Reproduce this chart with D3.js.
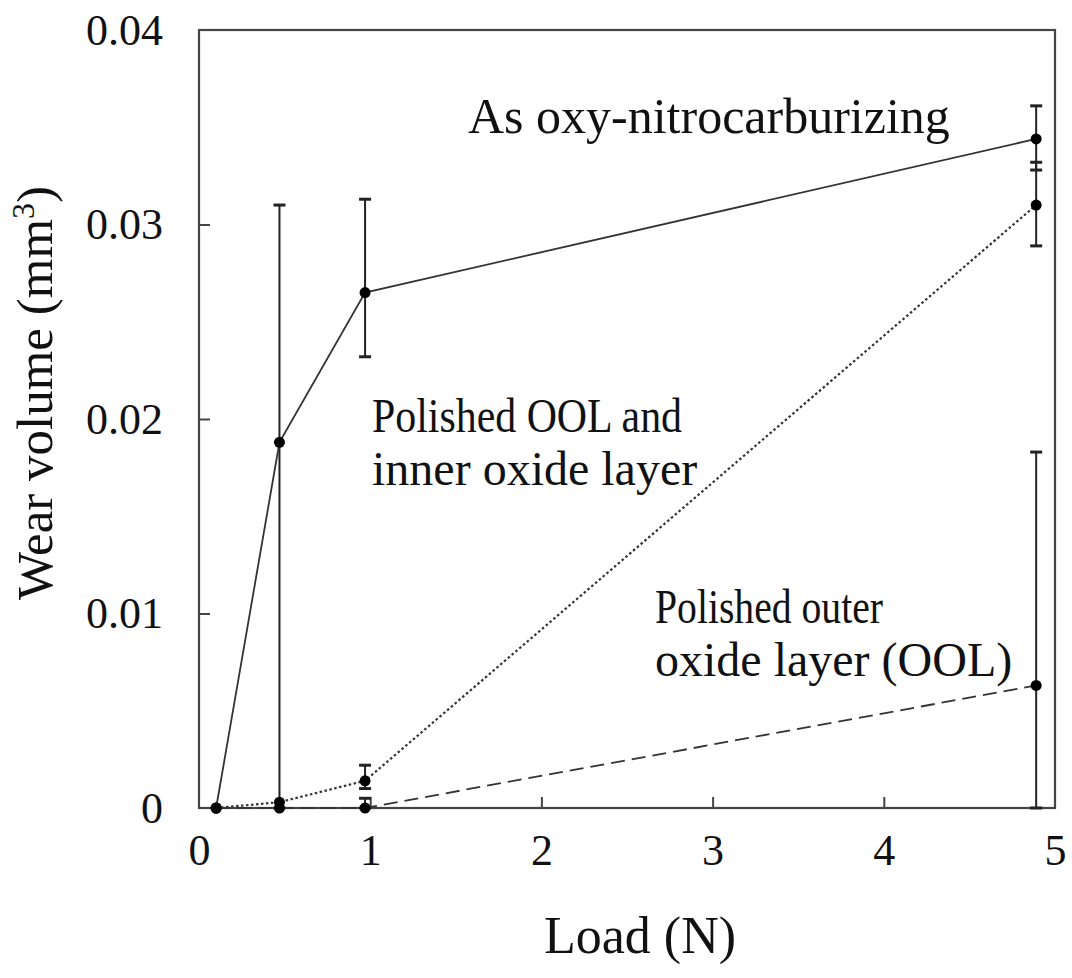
<!DOCTYPE html>
<html><head><meta charset="utf-8">
<script src="https://cdn.jsdelivr.net/npm/d3@7"></script>
<style>body{margin:0;background:#fff}</style>
</head><body>
<svg id="c" width="1072" height="978"></svg>
<script>
const loads = [0.1, 0.47, 0.97, 4.89];
const seriesNames = ["As oxy-nitrocarburizing", "Polished OOL and inner oxide layer", "Polished outer oxide layer (OOL)"];
const asOxy = [0, 0.0188, 0.0265, 0.0344];
const asOxyLow = [0, 0, 0.0232, 0.0328];
const asOxyHigh = [0, 0.0310, 0.0313, 0.0361];
const polInner = [0, 0.0003, 0.0014, 0.0310];
const polInnerLow = [0, 0, 0.0010, 0.0289];
const polInnerHigh = [0, 0, 0.0022, 0.0332];
const polOuter = [0, 0, 0, 0.0063];
const polOuterLow = [0, 0, 0, 0];
const polOuterHigh = [0, 0, 0.0005, 0.0183];
const xTicks = [0, 1, 2, 3, 4, 5];
const yTicks = [0, 0.01, 0.02, 0.03, 0.04];

const svg = d3.select("#c");
const L = 199, R = 1055, T = 30, B = 808;
const x = d3.scaleLinear().domain([0, 5]).range([L, R]);
const y = d3.scaleLinear().domain([0, 0.04]).range([B, T]);
const font = "'Liberation Serif','Times New Roman',serif";
const col = "#222";

// frame
svg.append("rect").attr("x", L).attr("y", T).attr("width", R - L).attr("height", B - T)
  .attr("fill", "none").attr("stroke", "#444").attr("stroke-width", 2.2);

// axes
const xAxis = svg.append("g").attr("transform", `translate(0,${B})`)
  .call(d3.axisBottom(x).tickValues(xTicks).tickSizeInner(-11).tickSizeOuter(0).tickPadding(30).tickFormat(d3.format("d")));
const yAxis = svg.append("g").attr("transform", `translate(${L},0)`)
  .call(d3.axisLeft(y).tickValues(yTicks).tickSizeInner(-11).tickSizeOuter(0).tickPadding(36).tickFormat(d => d === 0 ? "0" : d3.format(".2f")(d)));
[xAxis, yAxis].forEach(g => {
  g.select(".domain").remove();
  g.selectAll(".tick line").attr("stroke", "#444").attr("stroke-width", 2)
    .filter(d => d === 0 || d === 5 || d === 0.04).remove();
  g.selectAll(".tick text").attr("font-family", font).attr("font-size", 44).attr("fill", "#111");
});
xAxis.selectAll(".tick text").attr("dy", "0.62em");

svg.append("text").attr("x", 640).attr("y", 953).attr("text-anchor", "middle")
  .attr("font-family", font).attr("font-size", 52).attr("fill", "#111").text("Load (N)");
const yl = svg.append("text").attr("transform", `translate(52,393) rotate(-90)`)
  .attr("text-anchor", "middle").attr("font-family", font).attr("font-size", 51).attr("fill", "#111");
yl.append("tspan").text("Wear volume (mm");
yl.append("tspan").attr("dy", -18).attr("font-size", 32).text("3");
yl.append("tspan").attr("dy", 18).text(")");

const series = [
  {v: asOxy, lo: asOxyLow, hi: asOxyHigh, dash: null},
  {v: polInner, lo: polInnerLow, hi: polInnerHigh, dash: "2.5,2.5"},
  {v: polOuter, lo: polOuterLow, hi: polOuterHigh, dash: "14,7"}
];
const line = d3.line().x(d => x(d[0])).y(d => y(d[1]));
series.forEach(s => {
  const pts = loads.map((l, i) => [l, s.v[i]]);
  loads.forEach((l, i) => {
    if (s.hi[i] - s.lo[i] <= 0) return;
    const g = svg.append("g").attr("stroke", col).attr("stroke-width", 2);
    g.append("line").attr("x1", x(l)).attr("x2", x(l)).attr("y1", y(s.lo[i])).attr("y2", y(s.hi[i]));
    g.append("line").attr("x1", x(l) - 6).attr("x2", x(l) + 6).attr("y1", y(s.hi[i])).attr("y2", y(s.hi[i])).attr("stroke-width", 3);
    g.append("line").attr("x1", x(l) - 6).attr("x2", x(l) + 6).attr("y1", y(s.lo[i])).attr("y2", y(s.lo[i])).attr("stroke-width", 3);
  });
  svg.append("path").attr("d", line(pts)).attr("fill", "none").attr("stroke", "#333")
    .attr("stroke-width", s.dash === "2.5,2.5" ? 2.2 : 1.8).attr("stroke-dasharray", s.dash);
  svg.selectAll(null).data(pts).enter().append("circle")
    .attr("cx", d => x(d[0])).attr("cy", d => y(d[1])).attr("r", 5.5).attr("fill", "#000");
});

// annotations
const ann = [
  {t: ["As oxy-nitrocarburizing"], x: 468, y: 133, fs: 50, len: [null]},
  {t: ["Polished OOL and", "inner oxide layer"], x: 372, y: 432, fs: 48, len: [310, null]},
  {t: ["Polished outer", "oxide layer (OOL)"], x: 655, y: 623, fs: 48, len: [228, null]}
];
ann.forEach(a => {
  a.t.forEach((s, i) => {
    const t = svg.append("text").attr("x", a.x).attr("y", a.y + i * 53)
      .attr("font-family", font).attr("font-size", a.fs).attr("fill", "#111").text(s);
    if (a.len[i]) t.attr("textLength", a.len[i]).attr("lengthAdjust", "spacingAndGlyphs");
  });
});
</script>
</body></html>
